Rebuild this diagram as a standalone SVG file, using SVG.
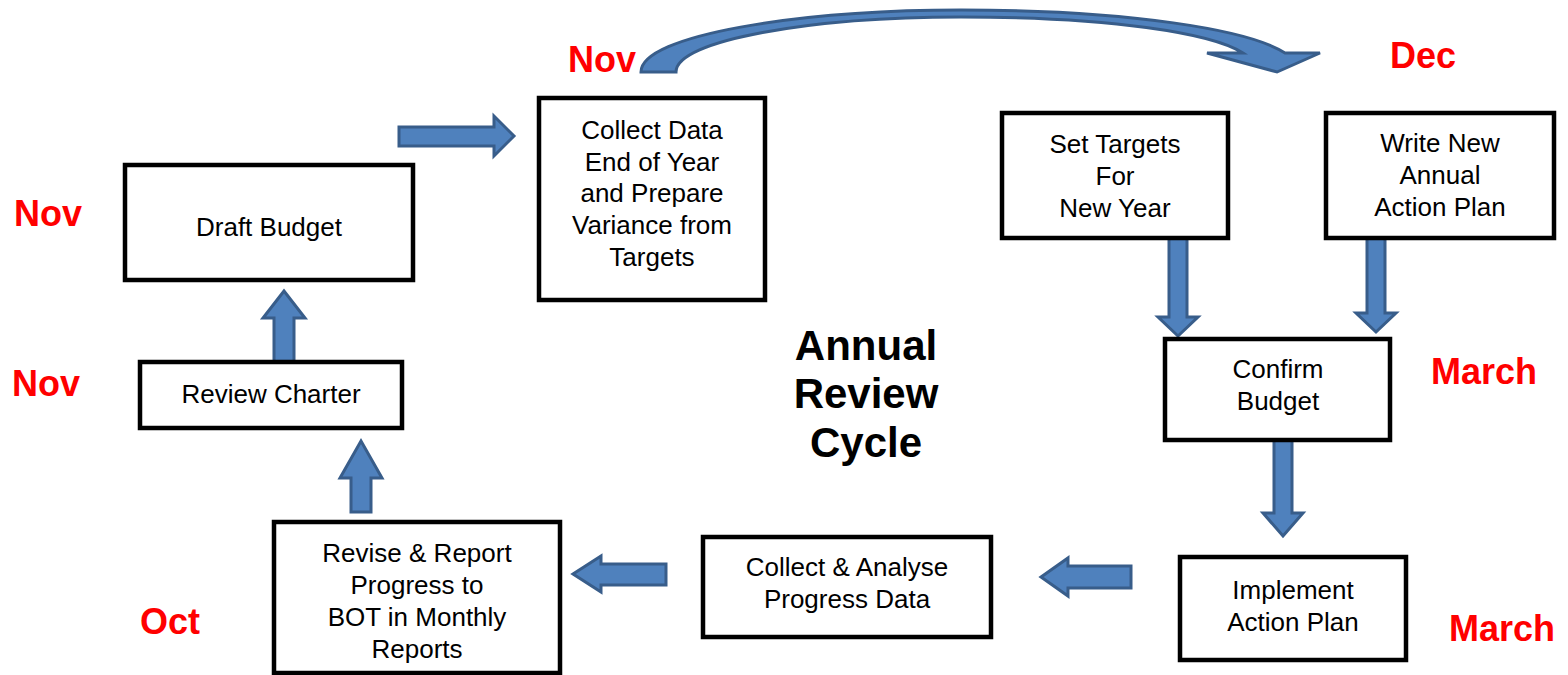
<svg xmlns="http://www.w3.org/2000/svg" width="1568" height="675" viewBox="0 0 1568 675">
<style>
.box{fill:#fff;stroke:#000;stroke-width:4.5}
.t{font-family:"Liberation Sans",Arial,sans-serif;font-size:26px;fill:#000;text-anchor:middle}
.m{font-family:"Liberation Sans",Arial,sans-serif;font-size:36px;font-weight:bold;fill:#ff0000}
.title{font-family:"Liberation Sans",Arial,sans-serif;font-size:42px;font-weight:bold;fill:#000;text-anchor:middle}
.arr{fill:#4f81bd;stroke:#385d8a;stroke-width:3;stroke-linejoin:miter}
</style>
<rect width="1568" height="675" fill="#fff"/>

<g id="connectors">
  <path class="arr" d="M641,72 C641,35 800,10 961,10 C1130,10 1250,30 1285,53 L1320,53 L1277,72 L1207,53 L1243,53 C1212,33 1110,17 961,17 C812,17 676,40 676,72 Z" stroke-width="2"/>
  <polygon class="arr" points="399,127 494,127 494,116 514,136 494,156 494,146 399,146"/>
  <polygon class="arr" points="274,362 274,318 263,318 284,291 305,318 294,318 294,362"/>
  <polygon class="arr" points="351,512 351,478 340,478 361,441 382,478 371,478 371,512"/>
  <polygon class="arr" points="666,564 601,564 601,556 573,574 601,592 601,585 666,585"/>
  <polygon class="arr" points="1131,566 1068,566 1068,558 1041,577 1068,596 1068,588 1131,588"/>
  <polygon class="arr" points="1169,238 1169,317 1158,317 1178,336 1198,317 1187,317 1187,238"/>
  <polygon class="arr" points="1367,238 1367,313 1356,313 1376,332 1396,313 1385,313 1385,238"/>
  <polygon class="arr" points="1274,440 1274,513 1263,513 1283,536 1303,513 1292,513 1292,440"/>
</g>

<g id="collect-data">
  <rect class="box" x="539" y="98" width="226" height="202"/>
  <text class="t" x="652" y="139">Collect Data</text>
  <text class="t" x="652" y="171">End of Year</text>
  <text class="t" x="652" y="202">and Prepare</text>
  <text class="t" x="652" y="234">Variance from</text>
  <text class="t" x="652" y="266">Targets</text>
</g>

<g id="draft-budget">
  <rect class="box" x="125" y="165" width="288" height="115"/>
  <text class="t" x="269" y="236">Draft Budget</text>
</g>

<g id="review-charter">
  <rect class="box" x="140" y="362" width="262" height="66"/>
  <text class="t" x="271" y="403">Review Charter</text>
</g>

<g id="set-targets">
  <rect class="box" x="1002" y="113" width="226" height="125"/>
  <text class="t" x="1115" y="153">Set Targets</text>
  <text class="t" x="1115" y="185">For</text>
  <text class="t" x="1115" y="217">New Year</text>
</g>

<g id="write-plan">
  <rect class="box" x="1326" y="113" width="228" height="125"/>
  <text class="t" x="1440" y="152">Write New</text>
  <text class="t" x="1440" y="184">Annual</text>
  <text class="t" x="1440" y="216">Action Plan</text>
</g>

<g id="confirm-budget">
  <rect class="box" x="1165" y="339" width="225" height="101"/>
  <text class="t" x="1278" y="378">Confirm</text>
  <text class="t" x="1278" y="410">Budget</text>
</g>

<g id="implement">
  <rect class="box" x="1180" y="557" width="226" height="103"/>
  <text class="t" x="1293" y="599">Implement</text>
  <text class="t" x="1293" y="631">Action Plan</text>
</g>

<g id="collect-analyse">
  <rect class="box" x="703" y="537" width="288" height="100"/>
  <text class="t" x="847" y="576">Collect &amp; Analyse</text>
  <text class="t" x="847" y="608">Progress Data</text>
</g>

<g id="revise-report">
  <rect class="box" x="274" y="522" width="286" height="151"/>
  <text class="t" x="417" y="562">Revise &amp; Report</text>
  <text class="t" x="417" y="594">Progress to</text>
  <text class="t" x="417" y="626">BOT in Monthly</text>
  <text class="t" x="417" y="658">Reports</text>
</g>

<g id="labels">
  <text class="m" x="568" y="72">Nov</text>
  <text class="m" x="1390" y="68">Dec</text>
  <text class="m" x="14" y="226">Nov</text>
  <text class="m" x="12" y="396">Nov</text>
  <text class="m" x="140" y="634">Oct</text>
  <text class="m" x="1431" y="384">March</text>
  <text class="m" x="1449" y="641">March</text>
</g>

<g id="title">
  <text class="title" x="866" y="360">Annual</text>
  <text class="title" x="866" y="408">Review</text>
  <text class="title" x="866" y="457">Cycle</text>
</g>
</svg>
